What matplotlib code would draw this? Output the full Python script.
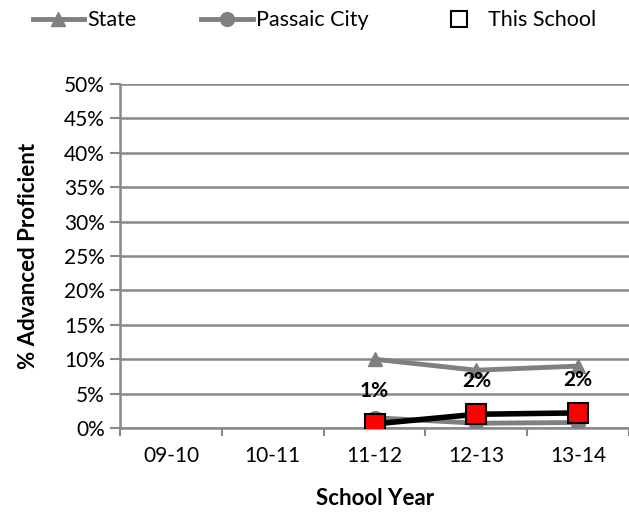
import matplotlib
matplotlib.use("Agg")
import matplotlib.pyplot as plt
from matplotlib.lines import Line2D
from matplotlib.ticker import FuncFormatter

plt.rcParams["font.family"] = ["Lato", "DejaVu Sans"]

years = ["09-10", "10-11", "11-12", "12-13", "13-14"]
state = [None, None, 10.0, 8.4, 9.0]
passaic = [None, None, 1.5, 0.7, 0.8]
school = [None, None, 0.6, 2.0, 2.2]
school_labels = [None, None, "1%", "2%", "2%"]

grey = "#898989"

fig = plt.figure(figsize=(6.29, 5.12), dpi=100)
ax = fig.add_axes([0.191, 0.164, 0.809, 0.672])

x = list(range(len(years)))
def pts(vals):
    xs = [i for i, v in zip(x, vals) if v is not None]
    ys = [v for v in vals if v is not None]
    return xs, ys

sx, sy = pts(state)
ax.plot(sx, sy, color="#808080", lw=3.5, marker="^", ms=10, zorder=3)
px, py = pts(passaic)
ax.plot(px, py, color="#808080", lw=3.5, marker="o", ms=10, zorder=3)
cx, cy = pts(school)
ax.plot(cx, cy, color="black", lw=4, marker="s", ms=14,
        mfc="red", mec="black", mew=1.5, zorder=4)

for i, v, lab in zip(x, school, school_labels):
    if v is None:
        continue
    ax.annotate(lab, (i, v), xytext=(0, 24), textcoords="offset points",
                ha="center", va="center", fontsize=15, fontweight="bold")

ax.set_xlim(-0.5, 4.44)
ax.set_ylim(0, 50)
ax.set_yticks(range(0, 51, 5))
ax.yaxis.set_major_formatter(FuncFormatter(lambda v, p: "%d%%" % v))
ax.set_xticks(x)
ax.set_xticklabels(years)
ax.set_xticks([i - 0.5 for i in range(len(years) + 1)], minor=True)
ax.tick_params(axis="x", which="major", length=0, pad=13, labelsize=15)
ax.tick_params(axis="x", which="minor", length=6, color=grey, width=1.5)
ax.tick_params(axis="y", length=7, color=grey, width=1.5, pad=4, labelsize=15)
ax.grid(axis="y", color=grey, lw=1.8)
ax.set_axisbelow(True)
for s in ["top", "right"]:
    ax.spines[s].set_visible(False)
for s in ["left", "bottom"]:
    ax.spines[s].set_color(grey)
    ax.spines[s].set_linewidth(1.8)

ax.set_xlabel("School Year", fontsize=16, fontweight="bold")
ax.xaxis.set_label_coords(0.5, -0.175)
ax.set_ylabel("% Advanced Proficient", fontsize=16, fontweight="bold")
ax.yaxis.set_label_coords(-0.16, 0.5)

handles = [
    Line2D([], [], color="#808080", lw=3.5, marker="^", ms=10),
    Line2D([], [], color="#808080", lw=3.5, marker="o", ms=10),
    Line2D([], [], ls="none", marker="s", ms=11, mfc="white", mec="black", mew=1.5),
]
fig.legend(handles, ["State", "Passaic City", "This School"], loc="center",
           bbox_to_anchor=(0.5, 0.96), ncol=3, frameon=False, fontsize=15.5,
           handlelength=2.4, handletextpad=0.15, columnspacing=3.0)

fig.savefig("out.png", dpi=100)
